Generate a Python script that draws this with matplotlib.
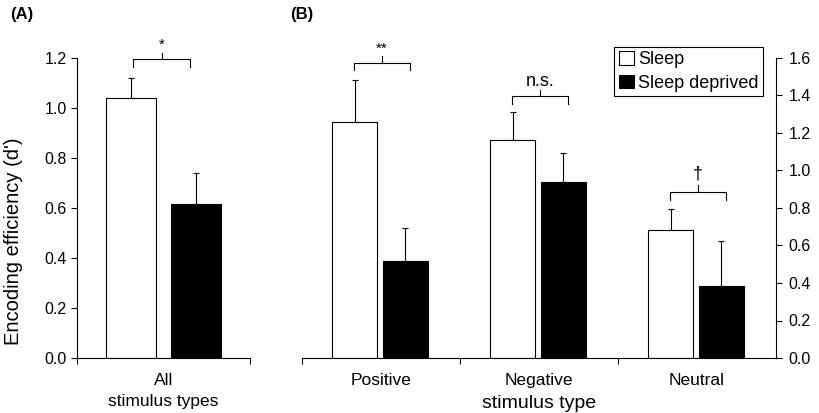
import numpy as np
import matplotlib
matplotlib.use("Agg")
from matplotlib import pyplot as plt
from matplotlib.patches import Patch

plt.rcParams['font.family'] = ['Liberation Sans', 'DejaVu Sans']

# panel A - all stimulus types together
all_label = "All\nstimulus types"
all_sleep = 1.04
all_sleep_err = 0.08
all_deprived = 0.615
all_deprived_err = 0.125

# panel B - split by stimulus type
types = ["Positive", "Negative", "Neutral"]
sleep = [1.26, 1.165, 0.685]
sleep_err = [0.225, 0.148, 0.108]
deprived = [0.52, 0.94, 0.385]
deprived_err = [0.174, 0.153, 0.24]

# significance marks and bracket heights
sig_a = ["*"]
bracket_a = [1.195]
sig_b = ["**", "n.s.", "\u2020"]
bracket_b = [1.575, 1.395, 0.885]

W, H = 819, 413
fig = plt.figure(figsize=(W / 100, H / 100), dpi=100)
ax_a = fig.add_axes([77 / W, 55 / H, 173 / W, 300 / H])
ax_b = fig.add_axes([302 / W, 55 / H, 474 / W, 300 / H])

lw = 0.8


def brackets(ax, xs, tops, marks, ymax):
    drop = 0.025 * ymax
    rise = 0.022 * ymax
    for (x0, x1), top, m in zip(xs, tops, marks):
        ax.plot([x0, x0, x1, x1], [top - drop, top, top, top - drop],
                color='black', lw=lw, clip_on=False)
        xm = (x0 + x1) / 2
        ax.plot([xm, xm], [top, top + rise], color='black', lw=lw, clip_on=False)
        fs = 11 if m.startswith("*") else 13
        off = 2.5 if m.startswith("*") or m == "n.s." else 5
        ax.annotate(m, (xm, top + rise), xytext=(0, off), textcoords='offset points',
                    ha='center', va='baseline', fontsize=fs, annotation_clip=False)


def style(ax, ypad):
    for s in ax.spines.values():
        s.set_linewidth(lw)
    ax.spines['top'].set_visible(False)
    ax.tick_params(axis='y', length=4, width=lw, labelsize=11.5, pad=ypad)
    ax.tick_params(axis='x', which='major', length=0, labelsize=12.5, pad=11)
    ax.tick_params(axis='x', which='minor', length=4, width=lw)


# ---- panel A
xa = np.array([0.5])
bw_a = 0.29
ax_a.bar(xa - 0.1875, [all_sleep], bw_a, color='white', edgecolor='black', lw=lw,
         yerr=[[0], [all_sleep_err]], capsize=2.2,
         error_kw=dict(elinewidth=lw, capthick=lw))
ax_a.bar(xa + 0.1875, [all_deprived], bw_a, color='black', edgecolor='black', lw=lw,
         yerr=[[0], [all_deprived_err]], capsize=2.2,
         error_kw=dict(elinewidth=lw, capthick=lw))
ax_a.set_xlim(0, 1)
ax_a.set_ylim(0, 1.2)
ax_a.set_yticks(np.arange(0, 1.21, 0.2))
ax_a.set_yticklabels([f"{v:.1f}" for v in np.arange(0, 1.21, 0.2)])
ax_a.set_xticks(xa)
ax_a.set_xticklabels([all_label], linespacing=1.45)
ax_a.set_xticks([0, 1], minor=True)
ax_a.spines['right'].set_visible(False)
style(ax_a, 3.5)
ax_a.set_ylabel("Encoding efficiency (d')", fontsize=14.5)
ax_a.yaxis.set_label_coords(-0.31, 0.39)
brackets(ax_a, [(xa[0] - 0.175, xa[0] + 0.155)], bracket_a, sig_a, 1.2)

# ---- panel B
xb = np.arange(len(types)) + 0.5
bw_b = 0.285
ax_b.bar(xb - 0.165, sleep, bw_b, color='white', edgecolor='black', lw=lw,
         yerr=[np.zeros(3), sleep_err], capsize=2.2,
         error_kw=dict(elinewidth=lw, capthick=lw))
ax_b.bar(xb + 0.152, deprived, bw_b, color='black', edgecolor='black', lw=lw,
         yerr=[np.zeros(3), deprived_err], capsize=2.2,
         error_kw=dict(elinewidth=lw, capthick=lw))
ax_b.set_xlim(0, 3)
ax_b.set_ylim(0, 1.6)
ax_b.yaxis.tick_right()
ax_b.set_yticks(np.arange(0, 1.61, 0.2))
ax_b.set_yticklabels([f"{v:.1f}" for v in np.arange(0, 1.61, 0.2)])
ax_b.set_xticks(xb)
ax_b.set_xticklabels(types)
ax_b.set_xticks([0, 1, 2], minor=True)
ax_b.spines['left'].set_visible(False)
style(ax_b, 5)
ax_b.set_xlabel("stimulus type", fontsize=14, labelpad=5)
brackets(ax_b, [(x - 0.17, x + 0.184) for x in xb], bracket_b, sig_b, 1.6)

handles = [Patch(facecolor='white', edgecolor='black', lw=lw),
           Patch(facecolor='black', edgecolor='black', lw=lw)]
leg = ax_b.legend(handles, ["Sleep", "Sleep deprived"], loc='upper right',
                  bbox_to_anchor=(0.972, 1.038), borderaxespad=0, fontsize=13,
                  handlelength=0.85, handleheight=0.8, handletextpad=0.2,
                  labelspacing=0.35, borderpad=0.25, fancybox=False, framealpha=1,
                  edgecolor='black')
leg.get_frame().set_linewidth(lw)

fig.text(10 / W, 1 - 15 / H, "(A)", fontsize=12, fontweight='bold', va='center')
fig.text(290 / W, 1 - 15 / H, "(B)", fontsize=12, fontweight='bold', va='center')

fig.savefig("out.png", dpi=100)
